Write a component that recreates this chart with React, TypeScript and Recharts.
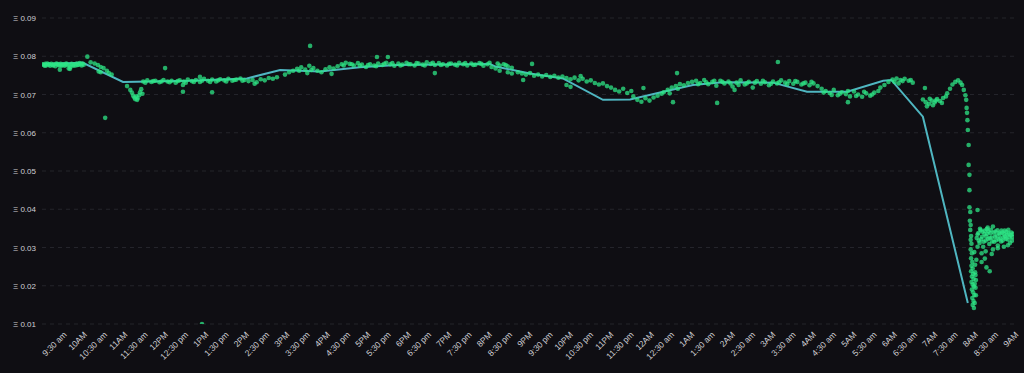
import React from 'react'
import { CartesianGrid, ComposedChart, Line, Scatter, XAxis, YAxis } from 'recharts'

// hours since midnight of the first day (33 = 9AM next day)
const tickLabels = [
  '9:30 am', '10AM', '10:30 am', '11AM', '11:30 am', '12PM', '12:30 pm', '1PM', '1:30 pm', '2PM',
  '2:30 pm', '3PM', '3:30 pm', '4PM', '4:30 pm', '5PM', '5:30 pm', '6PM', '6:30 pm', '7PM',
  '7:30 pm', '8PM', '8:30 pm', '9PM', '9:30 pm', '10PM', '10:30 pm', '11PM', '11:30 pm', '12AM',
  '12:30 am', '1AM', '1:30 am', '2AM', '2:30 am', '3AM', '3:30 am', '4AM', '4:30 am', '5AM',
  '5:30 am', '6AM', '6:30 am', '7AM', '7:30 am', '8AM', '8:30 am', '9AM',
]
const tickHours = tickLabels.map((_, i) => 9.5 + i * 0.5)
const priceTicks = [0.01, 0.02, 0.03, 0.04, 0.05, 0.06, 0.07, 0.08, 0.09]

// smoothed trend line [hour, price]
const trend = [
  [9.02, 0.078], [10.01, 0.0783], [11.0, 0.0733], [12.65, 0.0736], [14.06, 0.0742], [14.88, 0.0764],
  [15.86, 0.076], [16.85, 0.0771], [17.77, 0.0777], [20.06, 0.078], [20.2, 0.0773], [21.05, 0.0755],
  [21.86, 0.0742], [22.85, 0.0686], [23.52, 0.0687], [24.26, 0.0705], [25.07, 0.0725], [25.81, 0.0732],
  [27.05, 0.0731], [27.89, 0.0707], [28.88, 0.0707], [29.77, 0.0736], [29.97, 0.0738], [30.75, 0.0642],
  [31.86, 0.0155],
]

const morningDots = [
  [9.02, 0.0779], [9.05, 0.0777], [9.08, 0.078], [9.1, 0.0776], [9.13, 0.0781], [9.16, 0.0778], [9.2, 0.0775],
  [9.23, 0.078], [9.26, 0.0777], [9.3, 0.0779], [9.33, 0.0774], [9.36, 0.0781], [9.4, 0.0778], [9.43, 0.0776],
  [9.46, 0.078], [9.5, 0.0777], [9.53, 0.0779], [9.56, 0.0775], [9.6, 0.0781], [9.63, 0.0778], [9.66, 0.0768],
  [9.7, 0.0772], [9.73, 0.078], [9.76, 0.0777], [9.8, 0.0779], [9.83, 0.0776], [9.86, 0.0781], [9.9, 0.0778],
  [9.93, 0.0782], [9.96, 0.0779], [10.0, 0.0781], [10.03, 0.0778], [9.69, 0.0767], [9.44, 0.0765],
  [9.07, 0.0775], [9.18, 0.0779], [9.28, 0.0776], [9.38, 0.0779], [9.48, 0.0775], [9.58, 0.0778],
  [9.68, 0.0776], [9.78, 0.0775], [9.88, 0.0777], [9.98, 0.0776],
  [10.12, 0.0799], [10.2, 0.0784], [10.3, 0.0781], [10.38, 0.0777], [10.45, 0.0772], [10.52, 0.0769],
  [10.6, 0.0762], [10.65, 0.0756], [10.72, 0.0752], [10.4, 0.076], [10.45, 0.0758], [10.56, 0.0639],
  [11.1, 0.0722], [11.18, 0.0712], [11.22, 0.0705], [11.25, 0.0697], [11.28, 0.0692], [11.3, 0.0688],
  [11.33, 0.0695], [11.36, 0.069], [11.4, 0.0698], [11.42, 0.0706], [11.45, 0.0714], [11.48, 0.0702],
  [11.35, 0.0686], [11.5, 0.0734], [11.6, 0.0737], [11.7, 0.0733], [11.8, 0.0736], [11.9, 0.0732],
  [12.0, 0.0738], [12.1, 0.0734], [12.2, 0.0736], [12.3, 0.0731], [12.4, 0.0737], [12.5, 0.0734],
  [12.6, 0.0739], [12.7, 0.0735], [12.8, 0.0738], [12.9, 0.0733], [13.0, 0.0741], [13.1, 0.0736],
  [13.2, 0.0739], [13.3, 0.0734], [13.4, 0.074], [13.5, 0.0737], [13.6, 0.0741], [13.7, 0.0736],
  [13.8, 0.0739], [13.9, 0.0742], [14.0, 0.0738], [12.04, 0.0769], [12.48, 0.0725], [12.48, 0.0707],
  [13.2, 0.0706], [12.9, 0.0746], [12.95, 0.01],
  [11.55, 0.0731], [11.75, 0.0735], [11.95, 0.0734], [12.15, 0.0732], [12.35, 0.0735], [12.55, 0.0731],
  [12.75, 0.0733], [12.95, 0.0736], [13.15, 0.0733], [13.35, 0.0737], [13.55, 0.0734], [13.75, 0.0738],
  [13.95, 0.0736],
]

const afternoonDots = [
  [14.1, 0.0735], [14.2, 0.0738], [14.3, 0.0732], [14.4, 0.074], [14.5, 0.0737], [14.6, 0.0743],
  [14.7, 0.0741], [14.8, 0.0745], [14.25, 0.0728], [15.62, 0.0827], [15.0, 0.0752], [15.1, 0.0758],
  [15.2, 0.0762], [15.3, 0.0767], [15.4, 0.0771], [15.5, 0.0765], [15.6, 0.0775], [15.7, 0.0769],
  [15.8, 0.0762], [15.9, 0.0758], [16.0, 0.0766], [16.1, 0.0771], [16.2, 0.0768], [16.3, 0.0774],
  [16.4, 0.0779], [16.5, 0.0783], [16.6, 0.078], [16.7, 0.0776], [16.8, 0.0782], [16.9, 0.0778],
  [15.55, 0.0756], [16.15, 0.0754], [17.0, 0.0772], [17.1, 0.0779], [17.2, 0.0776], [17.3, 0.0781],
  [17.4, 0.0777], [17.5, 0.0783], [17.6, 0.0779], [17.7, 0.0775], [17.8, 0.0781], [17.9, 0.0778],
  [18.0, 0.0783], [18.1, 0.0779], [18.2, 0.0776], [18.3, 0.0781], [18.4, 0.0778], [18.5, 0.0784],
  [18.6, 0.078], [18.7, 0.0777], [18.8, 0.0782], [18.9, 0.0779], [19.0, 0.0776], [19.1, 0.0781],
  [19.2, 0.0778], [19.3, 0.0783], [19.4, 0.0779], [19.5, 0.0776], [19.6, 0.0781], [19.7, 0.0778],
  [19.8, 0.0782], [19.9, 0.0775], [20.0, 0.0779], [20.1, 0.0772], [20.2, 0.0768], [20.3, 0.0776],
  [20.4, 0.0779], [20.5, 0.0774], [20.6, 0.077], [17.27, 0.0798], [17.54, 0.0798], [18.7, 0.0756],
  [21.1, 0.078], [20.88, 0.0738], [20.3, 0.0762], [20.5, 0.0758], [20.6, 0.0755],
  [17.05, 0.0777], [17.25, 0.0774], [17.45, 0.078], [17.65, 0.0782], [17.85, 0.0776], [18.05, 0.0779],
  [18.25, 0.0782], [18.45, 0.0776], [18.65, 0.0783], [18.85, 0.0777], [19.05, 0.078], [19.25, 0.0776],
  [19.45, 0.0782], [19.65, 0.0777], [19.85, 0.078], [20.05, 0.0783], [20.25, 0.0781], [20.45, 0.0777],
  [16.45, 0.0776], [16.65, 0.0779], [16.85, 0.0775], [15.35, 0.0762], [15.65, 0.0764],
]

const eveningDots = [
  [20.75, 0.0758], [20.85, 0.0755], [20.95, 0.0752], [21.05, 0.0756], [21.15, 0.0749], [21.25, 0.0752],
  [21.35, 0.0747], [21.45, 0.0751], [21.55, 0.0746], [21.65, 0.0749], [21.75, 0.0744], [21.85, 0.0747],
  [21.95, 0.0743], [22.05, 0.074], [22.15, 0.0744], [22.25, 0.0737], [22.35, 0.0741], [22.45, 0.0734],
  [22.55, 0.0737], [22.65, 0.073], [22.75, 0.0726], [22.85, 0.0729], [22.95, 0.0722], [23.05, 0.0718],
  [21.95, 0.0725], [22.05, 0.072], [22.3, 0.0748], [23.15, 0.0712], [23.25, 0.0708], [23.35, 0.0715],
  [23.45, 0.0704], [23.55, 0.0709], [23.6, 0.0695], [23.7, 0.0686], [23.8, 0.0681], [23.9, 0.069],
  [24.0, 0.0684], [24.1, 0.0692], [24.2, 0.0697], [24.3, 0.0702], [23.85, 0.0717],
]

const nightDots = [
  [24.35, 0.0706], [24.45, 0.0712], [24.55, 0.0718], [24.65, 0.0722], [24.75, 0.0727], [24.85, 0.0724],
  [24.95, 0.073], [25.05, 0.0733], [24.5, 0.0703], [24.7, 0.0715], [24.68, 0.0756], [24.58, 0.068],
  [25.15, 0.0736], [25.25, 0.073], [25.35, 0.0738], [25.45, 0.0727], [25.55, 0.0733], [25.65, 0.0723],
  [25.75, 0.0736], [25.85, 0.0729], [25.95, 0.0734], [26.05, 0.0721], [26.15, 0.0731], [26.25, 0.0737],
  [26.35, 0.0726], [26.45, 0.0733], [26.55, 0.0718], [26.65, 0.0735], [26.75, 0.0728], [26.85, 0.0732],
  [26.95, 0.0724], [27.05, 0.0734], [27.15, 0.0729], [27.25, 0.0737], [27.35, 0.0731], [27.45, 0.0735],
  [27.55, 0.0728], [27.65, 0.0733], [27.75, 0.0726], [27.85, 0.0731], [27.95, 0.0724], [28.05, 0.0729],
  [28.15, 0.0722], [27.17, 0.0785], [25.67, 0.0678], [26.1, 0.0712], [28.25, 0.0715], [28.35, 0.0709],
  [28.45, 0.0704], [28.55, 0.0712], [28.65, 0.0698], [28.75, 0.0706], [28.85, 0.0701], [28.95, 0.0695],
  [29.05, 0.0708], [29.15, 0.07], [29.25, 0.0694], [29.35, 0.0703], [29.45, 0.0697], [29.55, 0.0705],
  [29.65, 0.0709], [28.9, 0.068], [29.7, 0.0718], [29.8, 0.0725], [29.9, 0.0733], [30.0, 0.0739],
  [30.1, 0.0742], [30.2, 0.0738], [30.3, 0.0741], [30.4, 0.0736], [30.5, 0.0731], [30.15, 0.0729],
  [30.8, 0.0717], [30.75, 0.0687], [30.82, 0.068], [30.9, 0.0676], [30.97, 0.0684], [31.04, 0.0679],
  [31.1, 0.0688], [31.17, 0.0683], [31.25, 0.0691], [31.32, 0.0695], [30.85, 0.0669], [31.0, 0.0672],
  [31.35, 0.0703], [31.42, 0.0715], [31.48, 0.0726], [31.55, 0.0733], [31.62, 0.0737], [31.68, 0.0731],
  [31.72, 0.0725], [31.76, 0.0712],
  [25.2, 0.0727], [25.4, 0.0732], [25.6, 0.0736], [25.8, 0.0733], [26.0, 0.0729], [26.2, 0.0725],
  [26.4, 0.0729], [26.6, 0.0731], [26.8, 0.0736], [27.0, 0.0728], [27.2, 0.0732], [27.4, 0.0727],
  [27.6, 0.0735], [27.8, 0.0729], [28.0, 0.0733], [28.3, 0.0705], [28.5, 0.0699], [28.7, 0.0702],
  [28.9, 0.0709], [29.1, 0.0696], [29.3, 0.0707], [29.5, 0.07], [30.05, 0.0733], [30.25, 0.0735],
  [30.45, 0.0738], [30.92, 0.0689], [31.07, 0.0684], [31.22, 0.0678],
]

const crashDots = [
  [31.8, 0.0698], [31.82, 0.0686], [31.83, 0.0665], [31.84, 0.0652], [31.85, 0.0633], [31.86, 0.0607],
  [31.88, 0.0568], [31.88, 0.0516], [31.9, 0.049], [31.9, 0.045], [31.9, 0.0405], [31.92, 0.0393],
  [31.91, 0.037], [31.93, 0.0359], [31.92, 0.0346], [31.94, 0.033], [31.93, 0.032], [31.95, 0.031],
  [31.93, 0.0295], [31.96, 0.0285], [31.94, 0.0272], [31.97, 0.0262], [31.95, 0.0252], [31.98, 0.0245],
  [31.94, 0.0238], [31.99, 0.0231], [31.96, 0.0224], [32.0, 0.0218], [31.95, 0.021], [31.98, 0.0203],
  [32.01, 0.0198], [31.96, 0.019], [31.99, 0.0183], [32.02, 0.0176], [31.97, 0.0168], [32.0, 0.016],
  [31.98, 0.015], [32.01, 0.0142], [32.03, 0.0205], [32.05, 0.0228], [32.04, 0.0255], [32.07, 0.0268],
  [32.02, 0.0288], [32.1, 0.0398], [32.05, 0.0195], [32.06, 0.0175], [32.03, 0.0155], [32.04, 0.0235],
  [32.06, 0.0215],
]

const reboundDots = [
  [32.08, 0.0325], [32.12, 0.0338], [32.15, 0.0312], [32.18, 0.0345], [32.21, 0.0328], [32.24, 0.0302],
  [32.27, 0.0335], [32.3, 0.0318], [32.33, 0.0348], [32.36, 0.0322], [32.39, 0.0309], [32.42, 0.0337],
  [32.45, 0.0326], [32.48, 0.0295], [32.51, 0.0315], [32.54, 0.0342], [32.57, 0.0331], [32.6, 0.0305],
  [32.63, 0.0338], [32.66, 0.0325], [32.69, 0.0344], [32.72, 0.0318], [32.75, 0.0335], [32.78, 0.0329],
  [32.81, 0.0341], [32.84, 0.0321], [32.87, 0.0336], [32.9, 0.0312], [32.93, 0.0339], [32.96, 0.0327],
  [32.2, 0.0285], [32.3, 0.029], [32.45, 0.0283], [32.6, 0.0298], [32.75, 0.0302], [32.85, 0.0306],
  [32.35, 0.0352], [32.2, 0.0262], [32.32, 0.0248], [32.4, 0.0238], [32.28, 0.0271], [32.48, 0.0355],
  [32.1, 0.0302], [32.1, 0.0334], [32.13, 0.0318], [32.16, 0.0349], [32.19, 0.0322], [32.22, 0.0341],
  [32.25, 0.0315], [32.28, 0.0344], [32.31, 0.0329], [32.34, 0.0336], [32.37, 0.0342], [32.4, 0.0325],
  [32.43, 0.0346], [32.46, 0.0316], [32.5, 0.0339], [32.53, 0.0328], [32.56, 0.0319], [32.59, 0.0345],
  [32.62, 0.0322], [32.65, 0.0335], [32.68, 0.0316], [32.71, 0.0339], [32.74, 0.0326], [32.77, 0.0344],
  [32.8, 0.0323], [32.83, 0.0333], [32.86, 0.0346], [32.89, 0.0327], [32.92, 0.0332], [32.95, 0.0318],
  [32.98, 0.0336],
]

const toPoints = (rows: number[][]) => rows.map(([h, v]) => ({ h, v }))
const trendData = toPoints(trend)
const dotData = toPoints([...morningDots, ...afternoonDots, ...eveningDots, ...nightDots, ...crashDots, ...reboundDots])

const FONT = '"Liberation Sans", Arial, sans-serif'
const LABEL = '#cfcfd4'

function TimeTick({ x, y, payload, index }: any) {
  return (
    <text
      x={x + 3}
      y={y + 5}
      transform={`rotate(-45, ${x + 3}, ${y + 5})`}
      textAnchor="end"
      dominantBaseline="central"
      fontSize={8.5}
      fontFamily={FONT}
      fill={LABEL}
    >
      {tickLabels[index] ?? payload.value}
    </text>
  )
}

function PriceTick({ x, y, payload }: any) {
  return (
    <text x={x} y={y} dy={3} textAnchor="end" fontSize={8} fontFamily={FONT} fill={LABEL}>
      {`Ξ ${Number(payload.value).toFixed(2)}`}
    </text>
  )
}

const Dot = (props: any) => <circle cx={props.cx} cy={props.cy} r={2.3} fill="#2ee586" fillOpacity={0.75} />

export default function App() {
  return (
    <div style={{ position: 'absolute', left: 0, top: 0, width: 1024, height: 373, background: '#0f0e13' }}>
      <ComposedChart width={1024} height={373} margin={{ top: 18, right: 10, bottom: 0, left: 0 }}>
        <CartesianGrid vertical={false} stroke="#24242b" strokeDasharray="4 4" />
        <XAxis
          type="number"
          dataKey="h"
          domain={[9, 33]}
          ticks={tickHours}
          interval={0}
          height={49}
          axisLine={false}
          tickLine={false}
          tickSize={0}
          tickMargin={4}
          tick={<TimeTick />}
          allowDataOverflow
        />
        <YAxis
          type="number"
          dataKey="v"
          domain={[0.01, 0.09]}
          ticks={priceTicks}
          interval={0}
          width={42}
          axisLine={false}
          tickLine={false}
          tickSize={0}
          tickMargin={6}
          tick={<PriceTick />}
          allowDataOverflow
        />
        <Scatter data={dotData} dataKey="v" shape={<Dot />} isAnimationActive={false} />
        <Line
          data={trendData}
          dataKey="v"
          type="linear"
          stroke="#4fb6c1"
          strokeWidth={2}
          dot={false}
          activeDot={false}
          isAnimationActive={false}
        />
      </ComposedChart>
    </div>
  )
}
